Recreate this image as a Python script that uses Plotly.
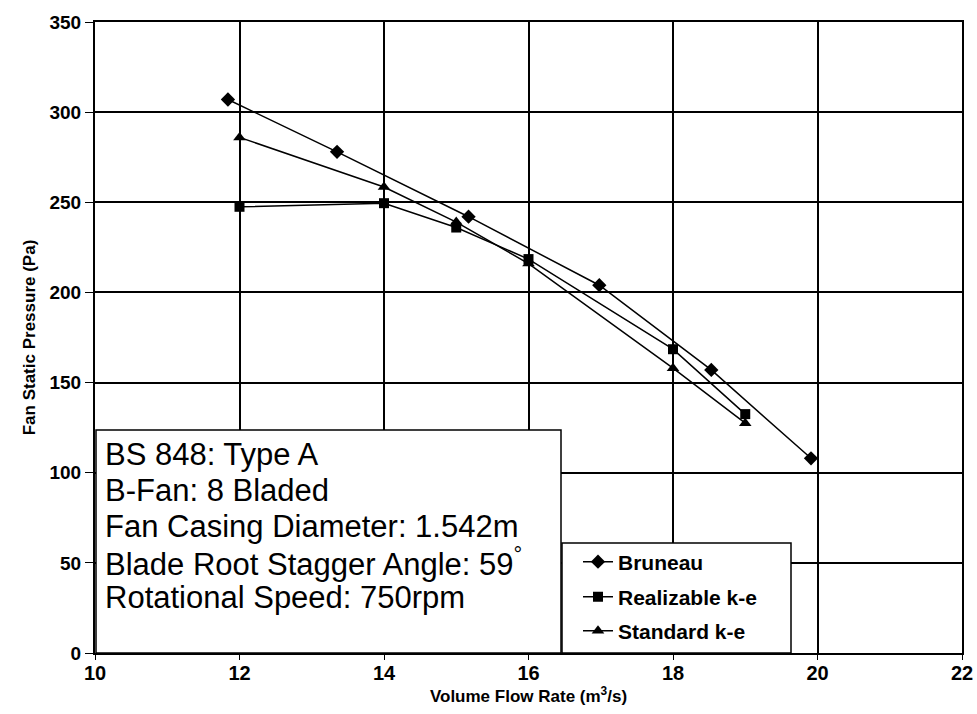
import plotly.graph_objects as go

# Data
bruneau_x = [11.84, 13.35, 15.17, 16.98, 18.53, 19.91]
bruneau_y = [307, 278, 242, 204, 157, 108]
realizable_x = [12, 14, 15, 16, 18, 19]
realizable_y = [247.5, 249.5, 236, 218.5, 168.5, 132.5]
standard_x = [12, 14, 15, 16, 18, 19]
standard_y = [286, 258.5, 239, 216, 158, 127.5]

x_ticks = [10, 12, 14, 16, 18, 20, 22]
y_ticks = [0, 50, 100, 150, 200, 250, 300, 350]

info_lines = [
    "BS 848: Type A",
    "B-Fan: 8 Bladed",
    "Fan Casing Diameter: 1.542m",
    "Blade Root Stagger Angle: 59<sup>°</sup>",
    "Rotational Speed: 750rpm",
]

FONT = "Liberation Sans, Arial, sans-serif"

# Layout geometry (pixels)
W, H = 977, 714
ML, MR, MT, MB = 95, 15, 22, 61
PW, PH = W - ML - MR, H - MT - MB


def px_x(p):
    return (p - ML) / PW


def px_y(p):
    return (H - MB - p) / PH


fig = go.Figure()
line_style = dict(color="black", width=1.5)
fig.add_trace(go.Scatter(x=bruneau_x, y=bruneau_y, mode="lines+markers", name="Bruneau",
                         line=line_style, legend="legend",
                         marker=dict(symbol="diamond", size=11, color="black")))
fig.add_trace(go.Scatter(x=realizable_x, y=realizable_y, mode="lines+markers", name="Realizable k-e",
                         line=line_style, legend="legend2",
                         marker=dict(symbol="square", size=10, color="black")))
fig.add_trace(go.Scatter(x=standard_x, y=standard_y, mode="lines+markers", name="Standard k-e",
                         line=line_style, legend="legend3",
                         marker=dict(symbol="triangle-up", size=11, color="black")))

# White boxes (text panel and legend panel) covering the grid
fig.add_shape(type="rect", xref="paper", yref="paper", x0=px_x(96), x1=px_x(561),
              y0=0, y1=px_y(430),
              fillcolor="white", line=dict(color="black", width=1.5), layer="above")
fig.add_shape(type="rect", xref="paper", yref="paper", x0=px_x(562), x1=px_x(791),
              y0=0, y1=px_y(543),
              fillcolor="white", line=dict(color="black", width=1.5), layer="above")

# Info text, one annotation per line
line_centers = [454.5, 490, 526, 561.5, 597]
for txt, cy in zip(info_lines, line_centers):
    fig.add_annotation(xref="paper", yref="paper", x=px_x(103), y=px_y(cy),
                       xanchor="left", yanchor="middle", text=txt, showarrow=False,
                       align="left", font=dict(family=FONT, size=31, color="black"))

legend_font = dict(family=FONT, size=21, color="black", weight="bold")
legend_common = dict(xref="paper", yref="paper", xanchor="left", yanchor="middle",
                     bgcolor="rgba(0,0,0,0)", borderwidth=0, font=legend_font)
fig.update_layout(
    width=W, height=H,
    margin=dict(l=ML, r=MR, t=MT, b=MB),
    paper_bgcolor="white", plot_bgcolor="white",
    showlegend=True,
    legend=dict(x=px_x(578), y=px_y(562), **legend_common),
    legend2=dict(x=px_x(578), y=px_y(597), **legend_common),
    legend3=dict(x=px_x(578), y=px_y(631), **legend_common),
)

fig.update_xaxes(range=[10, 22], tickvals=x_ticks, showgrid=True, gridcolor="black", gridwidth=1.5,
                 showline=True, linecolor="black", linewidth=2, mirror=True, automargin=False,
                 ticks="outside", ticklen=5, tickcolor="black", zeroline=False,
                 ticklabelstandoff=-4,
                 tickfont=dict(family=FONT, size=20, color="black", weight="bold"),
                 title=dict(text="Volume Flow Rate (m<sup>3</sup>/s)", standoff=2,
                            font=dict(family=FONT, size=17, color="black", weight="bold")))
fig.update_yaxes(range=[0, 350], tickvals=y_ticks, showgrid=True, gridcolor="black", gridwidth=1.5,
                 showline=True, linecolor="black", linewidth=2, mirror=True, automargin=False,
                 ticks="outside", ticklen=8, tickcolor="black", zeroline=False,
                 tickfont=dict(family=FONT, size=19, color="black", weight="bold"),
                 title=dict(text="Fan Static Pressure (Pa)", standoff=10,
                            font=dict(family=FONT, size=17, color="black", weight="bold")))

fig.write_html("out.html", config={"displayModeBar": False},
               post_script="document.body.style.margin='0';document.body.style.overflow='hidden';")
